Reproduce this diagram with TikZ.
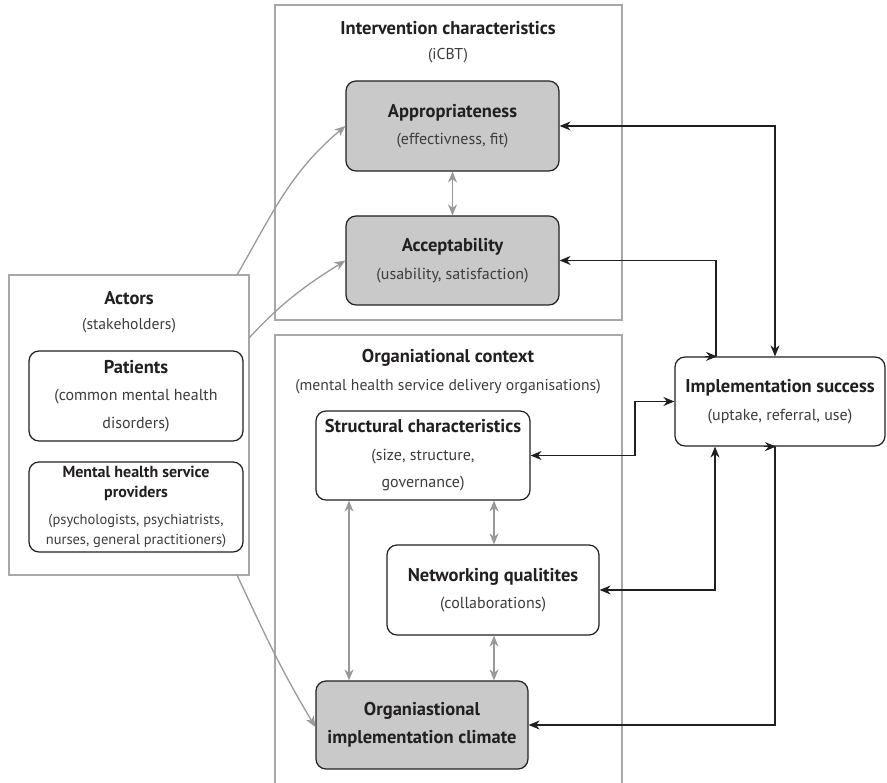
\documentclass[tikz,border=0pt]{standalone}
\usepackage{fontspec}
\setmainfont{PT Sans}
\usetikzlibrary{arrows.meta,calc}

\definecolor{ink}{HTML}{231F20}
\definecolor{subink}{HTML}{3C3C3C}
\definecolor{frame}{HTML}{A8A8A8}
\definecolor{link}{HTML}{999999}
\definecolor{shade}{HTML}{C8C9C8}

\newcommand{\hd}[1]{{\bfseries\fontsize{18.5}{28}\selectfont\color{ink}#1}}
\newcommand{\hdsmall}[1]{{\bfseries\fontsize{16}{21}\selectfont\color{ink}#1}}

\tikzset{
  container/.style={draw=frame, line width=1.2pt},
  title/.style={font=\bfseries\fontsize{18.5}{28}\selectfont, text=ink, inner sep=0pt},
  subtitle/.style={font=\fontsize{15.7}{28}\selectfont, text=subink, inner sep=0pt},
  factor/.style={draw=ink, line width=1.2pt, rounded corners=10pt, inner sep=0pt,
    align=center, font=\fontsize{16}{27.5}\selectfont, text=subink},
  shaded/.style={factor, fill=shade},
  plain/.style={factor, fill=white},
  blk/.style={draw=ink, line width=1.2pt},
  gry/.style={draw=link, line width=1.3pt},
}

\begin{document}
\begin{tikzpicture}[x=1pt,y=1pt, >={Stealth[length=11pt,width=9pt,inset=3.5pt]}]
\useasboundingbox (0,0) rectangle (887,783);

% outer groupings
\draw[container] (275,463) rectangle (622,778);
\draw[container] (9,208) rectangle (249,508);
\draw[container] (275,-5) -- (275,448) -- (622,448) -- (622,-5);

\node[title]    (intT) at (448,755) {Intervention characteristics};
\node[subtitle] (intS) at (448,727) {(iCBT)};
\node[title]    (actT) at (129,485) {Actors};
\node[subtitle] (actS) at (129,457) {(stakeholders)};
\node[title]    (orgT) at (448,425) {Organiational context};
\node[subtitle] (orgS) at (448,396) {(mental health service delivery organisations)};

\coordinate (actTop) at (237,508);
\coordinate (actSide) at (249,445);
\coordinate (actBot) at (237,208);

% factors
\node[shaded, minimum width=213pt, minimum height=90pt] (appr) at (452.5,657)
  {\hd{Appropriateness}\\(effectivness, fit)};
\node[shaded, minimum width=213pt, minimum height=89pt] (acc) at (452.5,522.5)
  {\hd{Acceptability}\\(usability, satisfaction)};
\node[plain, minimum width=214pt, minimum height=90pt] (pat) at (136,387)
  {\hd{Patients}\\(common mental health\\disorders)};
\node[plain, minimum width=214pt, minimum height=90pt,
  font=\fontsize{14.5}{20.5}\selectfont] (prov) at (136,276)
  {\hdsmall{Mental health service}\\
   \hdsmall{providers}\\[6pt]
   (psychologists, psychiatrists,\\nurses, general practitioners)};
\node[plain, minimum width=214pt, minimum height=89pt] (str) at (423,327.5)
  {\hd{Structural characteristics}\\(size, structure,\\governance)};
\node[plain, minimum width=212pt, minimum height=90pt] (net) at (493,193)
  {\hd{Networking qualitites}\\(collaborations)};
\node[shaded, minimum width=212pt, minimum height=88pt] (clim) at (422,58)
  {\hd{Organiastional}\\\hd{implementation climate}};
\node[plain, minimum width=210pt, minimum height=89pt] (impl) at (780,381.5)
  {\hd{Implementation success}\\(uptake, referral, use)};

% links among the factors
\draw[gry, <->] (appr.south) -- (acc.north);
\draw[gry, <->] (494,0 |- str.south) -- (494,0 |- net.north);
\draw[gry, <->] (494,0 |- net.south) -- (494,0 |- clim.north);
\draw[gry, <->] (349,0 |- str.south) -- (349,0 |- clim.north);

% actors feeding in
\draw[gry, ->] (actTop) to[out=60, in=220] (appr.west);
\draw[gry, ->] (actSide) to[out=47, in=212] (acc.west);
\draw[gry, ->] (actBot) to[out=-65, in=121] ([yshift=-2pt]clim.west);

% links with implementation success
\draw[blk, <->] (appr.east) -| (775,0 |- impl.north);
\draw[blk, <-] (acc.east) -| (716,0 |- impl.north);
\draw[blk, ->] (705,0 |- impl.north) -- (717,0 |- impl.north);
\draw[blk, <->] (str.east) -- (635,0 |- str.east) |- (impl.west);
\draw[blk, <->] (net.east) -| (715,0 |- impl.south);
\draw[blk, <-] (clim.east) -| (775,0 |- impl.south);
\draw[blk, ->] (764,0 |- impl.south) -- (776,0 |- impl.south);
\end{tikzpicture}
\end{document}
